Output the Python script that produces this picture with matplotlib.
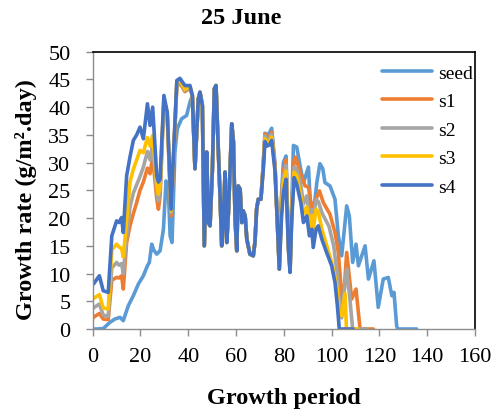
import matplotlib.pyplot as plt

plt.rcParams['font.family'] = ['Liberation Serif', 'DejaVu Serif']

# stretch where all five curves sit on top of each other
mid_days = [41.7, 42.8, 44.2, 44.9, 45.9, 46.7, 47.7, 48.4, 49.1, 50.1, 50.9, 51.6,
            52.6, 53.3, 54.0, 54.7, 55.4, 56.1, 56.8, 57.5, 58.2, 58.9, 59.6, 60.3,
            60.9, 61.7, 62.4, 63.0, 63.8, 64.5, 65.8, 67.2, 67.9, 68.6, 69.3, 70.4]
mid_vals = [42.1, 28.9, 41.5, 42.7, 40.3, 15.0, 31.9, 19.2, 18.6, 28.9, 43.3, 43.9,
            31.9, 24.0, 15.0, 19.8, 28.3, 15.6, 21.0, 28.9, 37.0, 33.7, 19.8, 14.1,
            25.8, 25.2, 19.2, 21.3, 20.4, 16.2, 13.5, 13.2, 15.6, 21.6, 23.4, 23.4]

# early part (day 0 to ~41)
seed_days_a = [0, 2, 4.5, 7.2, 9.3, 11.4, 12.8, 14.9, 17.0, 19.1, 21.2, 22.9, 23.7,
               24.7, 25.6, 26.8, 28.2, 29.6, 30.7, 31.6, 32.4, 33.2, 34.4, 35.4,
               37.2, 39.3, 40.7]
seed_vals_a = [0, 0, 0.1, 1.2, 1.8, 2.1, 1.5, 4.2, 6.0, 8.1, 9.6, 11.4, 12.0,
               15.3, 14.2, 13.5, 14.1, 18.0, 26.7, 25.8, 16.8, 15.6, 31.9, 36.1,
               37.9, 38.5, 40.9]

early_days = [0.3, 2.8, 4.4, 6.5, 8.0, 10.0, 11.0, 12.1, 12.8, 14.2, 15.6, 17.0,
              18.4, 19.8, 21.2, 22.9, 24.0, 25.1, 26.8, 27.5, 28.2, 29.8, 31.2,
              32.8, 35.2, 36.5, 38.6, 40.7]
s1_vals_a = [2.1, 2.8, 1.8, 1.7, 8.8, 9.3, 9.2, 9.6, 7.2, 15.6, 18.6, 20.8,
             22.8, 25.0, 26.5, 29.0, 28.0, 31.0, 23.5, 21.6, 24.0, 41.0, 38.3,
             20.4, 43.8, 44.3, 42.8, 43.4]
s2_vals_a = [3.8, 4.5, 2.5, 2.3, 11.0, 12.0, 11.5, 11.8, 10.0, 16.6, 22.0, 24.5,
             26.0, 27.5, 29.2, 32.0, 30.5, 33.5, 25.0, 23.1, 25.0, 41.3, 38.6,
             21.0, 44.1, 44.6, 43.0, 43.6]
s3_vals_a = [5.5, 6.2, 3.8, 3.6, 14.3, 15.3, 14.8, 14.5, 13.0, 19.5, 26.5, 28.8,
             30.5, 32.2, 31.8, 34.5, 33.0, 34.9, 26.0, 24.3, 26.0, 41.6, 38.8,
             21.3, 44.4, 44.9, 43.2, 43.8]
s4_vals_a = [8.1, 9.6, 6.9, 6.6, 16.8, 19.5, 19.2, 20.1, 17.4, 27.6, 31.0, 34.0,
             35.0, 36.4, 34.3, 40.6, 36.7, 40.0, 27.6, 26.5, 27.0, 42.1, 39.1,
             21.6, 44.8, 45.2, 43.9, 43.9]

# late part (day ~71 onwards)
seed_days_b = [71.4, 72.1, 73.0, 74.0, 74.9, 76.3, 77.2, 78.1, 79.0, 79.8, 80.9,
               81.9, 82.6, 83.3, 84.0, 85.4, 86.8, 88.2, 90.3, 91.0, 92.3, 93.8,
               95.1, 96.3, 97.2, 99.3, 101.4, 102.8, 104.2, 106.3, 107.4, 108.8,
               110.2, 111.2, 114.0, 115.4, 117.7, 119.5, 121.6, 123.7, 125.2,
               126.1, 127.2, 127.6, 135.6]
seed_vals_b = [30.0, 35.3, 35.0, 35.4, 36.2, 29.8, 20.0, 11.0, 24.0, 30.0, 31.2,
               15.5, 11.2, 22.0, 33.1, 32.8, 29.4, 26.4, 29.2, 23.4, 20.4, 26.4,
               29.8, 28.9, 26.4, 25.8, 23.4, 16.8, 13.2, 22.2, 20.4, 12.0,
               15.3, 11.4, 15.0, 9.0, 12.3, 3.9, 9.0, 9.3, 6.0,
               6.6, 0.6, 0, 0]

s1_days_b = [71.4, 72.1, 73.0, 74.0, 74.9, 76.3, 77.2, 78.1, 79.0, 79.8, 80.9,
             81.9, 82.6, 83.3, 84.3, 84.9, 86.8, 88.9, 90.3, 91.7, 93.1, 94.9,
             96.5, 99.3, 101.4, 102.8, 104.2, 104.8, 106.3, 108.4, 110.2, 111.9,
             117.5]
s1_vals_b = [29.8, 35.2, 34.4, 34.6, 35.5, 29.3, 20.0, 10.8, 23.0, 28.5, 30.5,
             15.0, 10.8, 21.5, 30.5, 31.0, 28.3, 25.8, 25.6, 21.6, 23.1, 24.9,
             22.8, 20.7, 17.4, 13.8, 6.0, 4.0, 13.8, 5.4, 7.2, 0,
             0]

s2_days_b = [71.4, 72.1, 73.0, 74.0, 74.9, 76.3, 77.2, 78.1, 79.0, 79.8, 80.9,
             81.9, 82.6, 83.3, 84.3, 85.4, 87.1, 88.2, 89.6, 90.7, 91.7, 92.3,
             93.5, 94.4, 96.0, 98.9, 100.9, 102.3, 103.2, 104.2, 105.5, 106.3,
             107.5, 108.8, 114.7]
s2_vals_b = [29.5, 34.8, 34.0, 34.3, 35.1, 29.1, 20.0, 10.8, 22.0, 27.5, 29.5,
             14.8, 10.6, 21.0, 29.2, 28.8, 26.0, 22.5, 24.0, 20.5, 21.5, 20.3,
             23.3, 23.0, 20.9, 18.5, 14.9, 10.0, 4.6, 2.0, 8.0, 10.8,
             6.0, 0, 0]

s3_days_b = [71.4, 72.1, 73.0, 74.0, 74.9, 76.3, 77.2, 78.1, 79.0, 79.8, 80.9,
             81.9, 82.6, 83.3, 84.3, 85.4, 87.1, 88.2, 89.6, 90.7, 91.7, 92.3,
             93.5, 94.4, 95.9, 98.0, 100.0, 101.4, 102.4, 103.2, 104.2, 105.6,
             106.2, 111.0]
s3_vals_b = [29.2, 34.3, 33.5, 33.8, 34.6, 28.8, 20.0, 10.8, 21.0, 26.5, 28.5,
             14.6, 10.4, 20.5, 28.3, 27.6, 24.0, 20.8, 22.0, 18.5, 20.5, 18.0,
             21.6, 21.2, 18.0, 15.0, 12.0, 9.4, 7.0, 2.8, 2.4, 6.4,
             0, 0]

s4_days_b = [71.4, 72.1, 73.0, 74.0, 74.9, 76.3, 77.2, 78.1, 79.0, 79.8, 80.9,
             81.9, 82.6, 83.3, 84.3, 85.4, 87.1, 88.2, 89.6, 90.7, 91.7, 92.3,
             93.5, 94.4, 95.9, 97.9, 100.0, 101.4, 102.4, 103.2, 109.0]
s4_vals_b = [28.8, 33.8, 33.0, 33.2, 34.0, 28.5, 20.0, 10.8, 20.0, 24.6, 27.0,
             14.4, 10.2, 19.8, 27.3, 26.1, 22.8, 19.2, 20.4, 16.8, 18.0, 14.7,
             18.0, 18.6, 16.2, 13.8, 11.4, 8.4, 4.2, 0, 0]

series = {
    'seed': (seed_days_a + mid_days + seed_days_b, seed_vals_a + mid_vals + seed_vals_b),
    's1': (early_days + mid_days + s1_days_b, s1_vals_a + mid_vals + s1_vals_b),
    's2': (early_days + mid_days + s2_days_b, s2_vals_a + mid_vals + s2_vals_b),
    's3': (early_days + mid_days + s3_days_b, s3_vals_a + mid_vals + s3_vals_b),
    's4': (early_days + mid_days + s4_days_b, s4_vals_a + mid_vals + s4_vals_b),
}
colors = {'seed': '#5B9BD5', 's1': '#ED7D31', 's2': '#A5A5A5',
          's3': '#FFC000', 's4': '#4472C4'}

fig = plt.figure(figsize=(5, 4.14), dpi=100)
ax = fig.add_axes([92.7 / 500, 1 - 330 / 414, 382.3 / 500, 277.3 / 414])

for name, (days, vals) in series.items():
    ax.plot(days, vals, color=colors[name], lw=2.6, label=name,
            solid_joinstyle='round', solid_capstyle='round')

ax.set_xlim(0, 160)
ax.set_ylim(0, 50)
ax.set_xticks(range(0, 161, 20))
ax.set_yticks(range(0, 51, 5))

for side in ['left', 'bottom']:
    ax.spines[side].set_color('#8c8c8c')
    ax.spines[side].set_linewidth(1.0)
for side in ['top', 'right']:
    ax.spines[side].set_color('black')
    ax.spines[side].set_linewidth(1.2)

ax.tick_params(axis='both', direction='out', length=5, width=1,
               color='#8c8c8c', labelsize=16)
ax.tick_params(axis='y', pad=11)
ax.tick_params(axis='x', pad=8)

leg = ax.legend(loc='upper left', bbox_to_anchor=(0.756, 0.955), frameon=False,
                fontsize=14, handlelength=2.6, handletextpad=0.3, labelspacing=0.56,
                borderpad=0, borderaxespad=0)
for line in leg.get_lines():
    line.set_linewidth(2.6)

fig.text(0.482, 1 - 18 / 414, '25 June', ha='center', va='center',
         fontsize=17.5, fontweight='bold')
fig.text(26.5 / 500, 1 - 200 / 414, 'Growth rate (g/m².day)', rotation=90,
         ha='center', va='center', fontsize=17.5, fontweight='bold')
fig.text(284 / 500, 1 - 399 / 414, 'Growth period', ha='center', va='center',
         fontsize=17.5, fontweight='bold')

plt.savefig('out.png', dpi=100)
